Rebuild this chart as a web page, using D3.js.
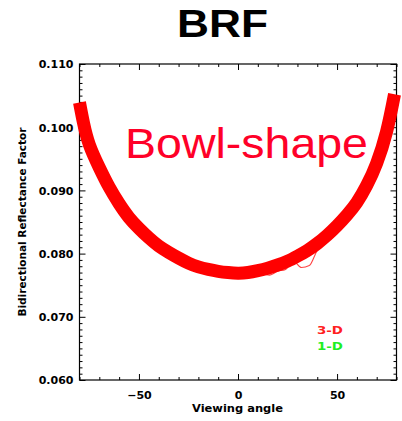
<!DOCTYPE html>
<html><head><meta charset="utf-8">
<script src="https://cdn.jsdelivr.net/npm/d3@7"></script>
<style>html,body{margin:0;padding:0;background:#fff;} svg{display:block}</style>
</head><body><svg id="c" width="402" height="421"></svg>
<script>
// ---- data ----
const angles = [-76,-72,-68,-64,-60,-56,-52,-48,-44,-40,-36,-32,-28,-24,-20,-16,-12,-8,-4,0,4,8,12,16,20,24,28,32,36,40,44,48,52,56,60,64,68,72,76];
const brf3D = [0.0985,0.0960,0.0922,0.0899,0.0879,0.0861,0.0847,0.0835,0.0826,0.0813,0.0803,0.0794,0.0785,0.0782,0.0779,0.0776,0.0776,0.0772,0.0770,0.0769,0.0768,0.0765,0.0768,0.0766,0.0772,0.0775,0.0788,0.0778,0.0781,0.0805,0.0818,0.0826,0.0844,0.0860,0.0880,0.0900,0.0925,0.0955,0.0990];
const brf1D = [0.0990,0.0953,0.0925,0.0901,0.0881,0.0864,0.0849,0.0836,0.0825,0.0815,0.0806,0.0798,0.0791,0.0786,0.0781,0.0778,0.0775,0.0773,0.0771,0.0771,0.0771,0.0772,0.0774,0.0777,0.0781,0.0786,0.0792,0.0799,0.0807,0.0817,0.0829,0.0842,0.0856,0.0872,0.0890,0.0912,0.0938,0.0968,0.1005];
const bowlAngles = [-80,-78,-75,-70,-65,-60,-55,-50,-45,-40,-35,-30,-25,-20,-15,-10,-5,0,5,10,15,20,25,30,35,40,45,50,55,60,65,70,75,79];
const bowlBRF = [0.1039,0.1007,0.0972,0.0936,0.0905,0.0879,0.0857,0.0840,0.0825,0.0812,0.0802,0.0793,0.0785,0.0779,0.0775,0.0772,0.0770,0.0769,0.0770,0.0773,0.0777,0.0782,0.0788,0.0796,0.0805,0.0816,0.0829,0.0844,0.0861,0.0881,0.0908,0.0943,0.0993,0.1052];
const xMajorTicks = [-50,0,50];
const xMinorTicks = [-80,-70,-60,-40,-30,-20,-10,10,20,30,40,60,70,80];
const yMajorTicks = [0.060,0.070,0.080,0.090,0.100,0.110];
const seriesNames = ["3-D","1-D"];
const titleText = "BRF";
const annotationText = "Bowl-shape";

// ---- layout ----
const svg = d3.select("#c");
const L = 79.5, R = 396.5, T = 64, B = 380;
const x = d3.scaleLinear().domain([-80,80]).range([L,R]);
const y = d3.scaleLinear().domain([0.060,0.110]).range([B,T]);
const yMinor = d3.range(61,110).filter(v=>v%10!==0).map(v=>v/1000);
const font = "'DejaVu Sans', sans-serif";

function styleAxis(g){
  g.select(".domain").remove();
  g.selectAll("line").attr("stroke","#000").attr("stroke-width",1);
  g.selectAll("text").attr("font-family",font).attr("font-weight","bold").attr("fill","#000");
}
// left
svg.append("g").attr("transform",`translate(${L},0)`)
  .call(d3.axisLeft(y).tickValues(yMajorTicks).tickSize(-6).tickPadding(6).tickFormat(d3.format(".3f")))
  .call(styleAxis).call(g=>g.selectAll("text").attr("font-size",11).attr("dy","0.36em"));
svg.append("g").attr("transform",`translate(${L},0)`)
  .call(d3.axisLeft(y).tickValues(yMinor).tickSize(-3).tickFormat(""))
  .call(styleAxis);
// right
svg.append("g").attr("transform",`translate(${R},0)`)
  .call(d3.axisRight(y).tickValues(yMajorTicks).tickSize(-6).tickFormat(""))
  .call(styleAxis);
svg.append("g").attr("transform",`translate(${R},0)`)
  .call(d3.axisRight(y).tickValues(yMinor).tickSize(-3).tickFormat(""))
  .call(styleAxis);
// bottom
svg.append("g").attr("transform",`translate(0,${B})`)
  .call(d3.axisBottom(x).tickValues(xMajorTicks).tickSize(-6).tickPadding(11).tickFormat(d=>d<0?"\u2212"+Math.abs(d):d))
  .call(styleAxis).call(g=>g.selectAll("text").attr("font-size",11));
svg.append("g").attr("transform",`translate(0,${B})`)
  .call(d3.axisBottom(x).tickValues(xMinorTicks).tickSize(-3).tickFormat(""))
  .call(styleAxis);
// top
svg.append("g").attr("transform",`translate(0,${T})`)
  .call(d3.axisTop(x).tickValues(xMajorTicks).tickSize(-6).tickFormat(""))
  .call(styleAxis);
svg.append("g").attr("transform",`translate(0,${T})`)
  .call(d3.axisTop(x).tickValues(xMinorTicks).tickSize(-3).tickFormat(""))
  .call(styleAxis);
// frame
svg.append("rect").attr("x",L).attr("y",T).attr("width",R-L).attr("height",B-T)
  .attr("fill","none").attr("stroke","#000").attr("stroke-width",1.2);

// axis titles
svg.append("text").attr("x",237.5).attr("y",412).attr("text-anchor","middle")
  .attr("font-family",font).attr("font-weight","bold").attr("font-size",10)
  .attr("textLength",91).attr("lengthAdjust","spacingAndGlyphs").text("Viewing angle");
svg.append("text").attr("transform","translate(26,222) rotate(-90)").attr("text-anchor","middle")
  .attr("font-family",font).attr("font-weight","bold").attr("font-size",10)
  .attr("textLength",189).attr("lengthAdjust","spacingAndGlyphs").text("Bidirectional Reflectance Factor");

// data lines
const line = d3.line().x(d=>x(d[0])).y(d=>y(d[1])).curve(d3.curveMonotoneX);
svg.append("path").datum(angles.map((a,i)=>[a,brf1D[i]]))
  .attr("d",line).attr("fill","none").attr("stroke","#33ee33").attr("stroke-width",1.1);
svg.append("path").datum(angles.map((a,i)=>[a,brf3D[i]]))
  .attr("d",line).attr("fill","none").attr("stroke","#ff4444").attr("stroke-width",1.1);

// legend
const legColors = ["#ff2020","#20ee20"];
seriesNames.forEach((n,i)=>{
  svg.append("text").attr("x",317).attr("y",334+i*16)
    .attr("font-family",font).attr("font-weight","bold").attr("font-size",11)
    .attr("textLength",26).attr("lengthAdjust","spacingAndGlyphs")
    .attr("fill",legColors[i]).text(n);
});

// bowl annotation
const bowlLine = d3.line().x(d=>x(d[0])).y(d=>y(d[1])).curve(d3.curveNatural);
svg.append("path").datum(bowlAngles.map((a,i)=>[a,bowlBRF[i]]))
  .attr("d",bowlLine).attr("fill","none").attr("stroke","#ff0000")
  .attr("stroke-width",13).attr("stroke-linecap","butt");

svg.append("text").attr("x",125).attr("y",158)
  .attr("font-family","'Liberation Sans', Arial, sans-serif").attr("font-size",42)
  .attr("textLength",243).attr("lengthAdjust","spacingAndGlyphs")
  .attr("fill","#ff0028").text(annotationText);

// title
svg.append("text").attr("x",222.5).attr("y",37).attr("text-anchor","middle")
  .attr("font-family","'Liberation Sans', Arial, sans-serif").attr("font-weight","bold").attr("font-size",39)
  .attr("textLength",91).attr("lengthAdjust","spacingAndGlyphs")
  .attr("fill","#000").text(titleText);
</script></body></html>
